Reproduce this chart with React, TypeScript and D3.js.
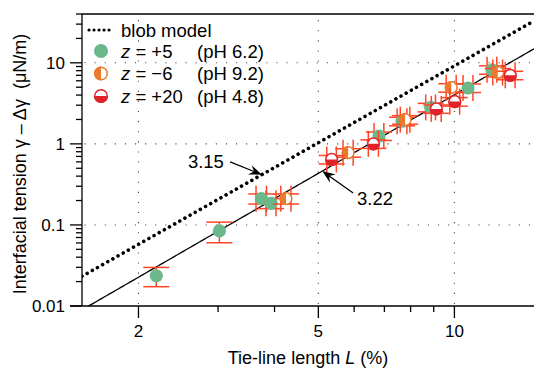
import React from "react";
import * as d3 from "d3";

// ---- Data ----
const greenL = [2.19, 3.02, 3.74, 3.93, 6.81, 7.66, 8.86, 10.72, 12.11];
const greenV = [0.0236, 0.0843, 0.211, 0.185, 1.25, 1.9, 2.82, 4.89, 8.2];
const greenXErr = [0, 0, 0.1, 0.1, 0.17, 0.19, 0.22, 0.27, 0.3];
const greenYErr = [0.0063, 0.024, 0.03, 0.026, 0.15, 0.23, 0.34, 0.59, 0.98];

const orangeL = [4.24, 5.82, 7.78, 9.84, 12.47];
const orangeV = [0.211, 0.778, 1.99, 4.93, 7.6];
const orangeXErr = [0.11, 0.15, 0.19, 0.25, 0.31];
const orangeYErr = [0.03, 0.093, 0.24, 0.59, 0.91];

const redL = [5.35, 6.62, 9.12, 10.02, 13.29];
const redV = [0.642, 1.0, 2.7, 3.32, 7.02];
const redXErr = [0.13, 0.17, 0.23, 0.25, 0.33];
const redYErr = [0.077, 0.12, 0.32, 0.4, 0.84];

const xTickMajor = [2, 5, 10];
const xTickMinor = [3, 4, 6, 7, 8, 9];
const yTickMajor = [0.01, 0.1, 1, 10];
const yTickLabels = ["0.01", "0.1", "1", "10"];

const fitCoef = 0.00243;
const fitExp = 3.22;
const blobCoef = 0.00649;
const blobExp = 3.15;

const legendLabels = ["+5", "\u22126", "+20"];
const legendPH = ["(pH 6.2)", "(pH 9.2)", "(pH 4.8)"];

// ---- Layout ----
const W = 534;
const H = 368;
const left = 82;
const right = 534;
const top = 14;
const bottom = 306;

const GREEN = "#6bb88a";
const ORANGE = "#ec7a2c";
const RED = "#e0232a";
const ERR = "#ff4526";
const FONT = "'Liberation Sans', Arial, Helvetica, sans-serif";

const x = d3.scaleLog().domain([1.5, 15]).range([left, right]);
const y = d3.scaleLog().domain([0.01, 40]).range([bottom, top]);

function yMinorTicks(): number[] {
  const out: number[] = [];
  for (const dec of [0.01, 0.1, 1, 10]) {
    for (let k = 2; k <= 9; k++) {
      const v = dec * k;
      if (v <= 40) out.push(v);
    }
  }
  return out;
}

type Kind = "green" | "orange" | "red";

function Marker({ cx, cy, kind, r = 6.6 }: { cx: number; cy: number; kind: Kind; r?: number }) {
  if (kind === "green") {
    return <circle cx={cx} cy={cy} r={r} fill={GREEN} />;
  }
  if (kind === "orange") {
    const arc = d3.arc()({ innerRadius: 0, outerRadius: r, startAngle: Math.PI, endAngle: 2 * Math.PI }) as string;
    return (
      <g transform={`translate(${cx},${cy})`}>
        <circle r={r - 0.75} fill="white" stroke={ORANGE} strokeWidth={1.5} />
        <path d={arc} fill={ORANGE} />
      </g>
    );
  }
  const arc = d3.arc()({ innerRadius: 0, outerRadius: r, startAngle: Math.PI / 2, endAngle: (3 * Math.PI) / 2 }) as string;
  return (
    <g transform={`translate(${cx},${cy})`}>
      <circle r={r - 0.75} fill="white" stroke={RED} strokeWidth={1.5} />
      <path d={arc} fill={RED} />
    </g>
  );
}

function ErrorBars({ L, V, xe, ye }: { L: number[]; V: number[]; xe: number[]; ye: number[] }) {
  const cap = 13;
  return (
    <g stroke={ERR} strokeWidth={1.5} fill="none">
      {L.map((l, i) => {
        const cx = x(l);
        const cy = y(V[i]);
        const y1 = y(V[i] + ye[i]);
        const y2 = y(V[i] - ye[i]);
        const parts = [
          <line key="v" x1={cx} x2={cx} y1={y1} y2={y2} />,
          <line key="c1" x1={cx - cap} x2={cx + cap} y1={y1} y2={y1} />,
          <line key="c2" x1={cx - cap} x2={cx + cap} y1={y2} y2={y2} />,
        ];
        if (xe[i] > 0) {
          const x1 = x(l - xe[i]);
          const x2 = x(l + xe[i]);
          parts.push(<line key="h" x1={x1} x2={x2} y1={cy} y2={cy} />);
          parts.push(<line key="c3" x1={x1} x2={x1} y1={cy - cap} y2={cy + cap} />);
          parts.push(<line key="c4" x1={x2} x2={x2} y1={cy - cap} y2={cy + cap} />);
        }
        return <g key={i}>{parts}</g>;
      })}
    </g>
  );
}

function Arrow({ x1, y1, x2, y2 }: { x1: number; y1: number; x2: number; y2: number }) {
  const ang = Math.atan2(y2 - y1, x2 - x1);
  const len = 13;
  const hw = 5;
  const ux = Math.cos(ang);
  const uy = Math.sin(ang);
  const bx = x2 - ux * len;
  const by = y2 - uy * len;
  const nx = x2 - ux * len * 0.65;
  const ny = y2 - uy * len * 0.65;
  const p = `M${x2},${y2} L${bx - uy * hw},${by + ux * hw} L${nx},${ny} L${bx + uy * hw},${by - ux * hw} Z`;
  return (
    <g>
      <line x1={x1} y1={y1} x2={nx} y2={ny} stroke="black" strokeWidth={1.3} />
      <path d={p} fill="black" />
    </g>
  );
}

export default function App() {
  const lineGen = (c: number, e: number) => {
    const pts = d3.range(0, 201).map((i) => 1.5 * Math.pow(10, i / 200));
    return d3
      .line<number>()
      .x((l) => x(l))
      .y((l) => y(c * Math.pow(l, e)))(pts) as string;
  };

  const blobTip = 3.75;
  const fitTip = 5.1;

  return (
    <svg width={W} height={H} style={{ position: "absolute", left: 0, top: 0 }} fontFamily={FONT}>
      <defs>
        <clipPath id="plot">
          <rect x={left} y={top} width={right - left} height={bottom - top} />
        </clipPath>
      </defs>
      <rect x={0} y={0} width={W} height={H} fill="white" />

      {/* grid */}
      <g stroke="#444" strokeWidth={1.1} strokeDasharray="1.1 9">
        {xTickMajor.map((t) => (
          <line key={"gx" + t} x1={x(t)} x2={x(t)} y1={bottom - 2} y2={top} />
        ))}
        {[0.1, 1, 10].map((t) => (
          <line key={"gy" + t} x1={right - 4} x2={left} y1={y(t)} y2={y(t)} />
        ))}
      </g>

      {/* lines */}
      <g clipPath="url(#plot)">
        <path d={lineGen(fitCoef, fitExp)} fill="none" stroke="black" strokeWidth={1.3} />
        <path
          d={lineGen(blobCoef, blobExp)}
          fill="none"
          stroke="black"
          strokeWidth={3.6}
          strokeLinecap="round"
          strokeDasharray="0.01 5.9"
        />
      </g>

      {/* data */}
      <ErrorBars L={greenL} V={greenV} xe={greenXErr} ye={greenYErr} />
      {greenL.map((l, i) => (
        <Marker key={"g" + i} cx={x(l)} cy={y(greenV[i])} kind="green" />
      ))}
      <ErrorBars L={orangeL} V={orangeV} xe={orangeXErr} ye={orangeYErr} />
      {orangeL.map((l, i) => (
        <Marker key={"o" + i} cx={x(l)} cy={y(orangeV[i])} kind="orange" />
      ))}
      <ErrorBars L={redL} V={redV} xe={redXErr} ye={redYErr} />
      {redL.map((l, i) => (
        <Marker key={"r" + i} cx={x(l)} cy={y(redV[i])} kind="red" />
      ))}

      {/* axes */}
      <g stroke="black" strokeWidth={1.3}>
        <line x1={left} x2={left} y1={top} y2={bottom} />
        <line x1={left - 12} x2={right} y1={bottom} y2={bottom} />
        <line x1={left} x2={right} y1={top} y2={top} />
        {xTickMajor.map((t) => (
          <line key={"xt" + t} x1={x(t)} x2={x(t)} y1={bottom} y2={bottom + 12} />
        ))}
        {xTickMinor.map((t) => (
          <line key={"xm" + t} x1={x(t)} x2={x(t)} y1={bottom} y2={bottom + 6} />
        ))}
        {yTickMajor.map((t) => (
          <line key={"yt" + t} x1={left - 12} x2={left} y1={y(t)} y2={y(t)} />
        ))}
        {yMinorTicks().map((t) => (
          <line key={"ym" + t} x1={left - 6} x2={left} y1={y(t)} y2={y(t)} />
        ))}
      </g>
      <g fontSize={17} fill="black">
        {xTickMajor.map((t) => (
          <text key={"xl" + t} x={x(t)} y={337} textAnchor="middle">
            {t}
          </text>
        ))}
        {yTickMajor.map((t, i) => (
          <text key={"yl" + t} x={65} y={y(t) + 6} textAnchor="end">
            {yTickLabels[i]}
          </text>
        ))}
      </g>
      <text x={(left + right) / 2} y={364} textAnchor="middle" fontSize={18}>
        Tie-line length <tspan fontStyle="italic">L</tspan> (%)
      </text>
      <text transform={`translate(26,${(top + bottom) / 2 + 4}) rotate(-90)`} textAnchor="middle" fontSize={18}>
        Interfacial tension γ – Δγ {"\u00a0"}(μN/m)
      </text>

      {/* annotations */}
      <text x={x(2.82)} y={y(0.598) + 6.5} textAnchor="middle" fontSize={18.5}>
        3.15
      </text>
      <Arrow x1={x(3.19)} y1={y(0.598)} x2={x(blobTip)} y2={y(blobCoef * Math.pow(blobTip, blobExp))} />
      <text x={x(6.09)} y={y(0.209) + 6.5} textAnchor="start" fontSize={18.5}>
        3.22
      </text>
      <Arrow x1={x(5.97)} y1={y(0.248)} x2={x(fitTip)} y2={y(fitCoef * Math.pow(fitTip, fitExp))} />

      {/* legend */}
      <g fontSize={18.5}>
        <line x1={89} x2={113} y1={30} y2={30} stroke="black" strokeWidth={3.2} strokeLinecap="round" strokeDasharray="0.01 5" />
        <text x={121} y={36.5}>blob model</text>
        {(["green", "orange", "red"] as Kind[]).map((k, i) => {
          const cy = 51 + i * 22.5;
          return (
            <g key={k}>
              <Marker cx={101} cy={cy} kind={k} r={7} />
              <text x={121} y={cy + 6.5}>
                <tspan fontStyle="italic">z</tspan> = {legendLabels[i]}
              </text>
              <text x={197} y={cy + 6.5}>
                {legendPH[i]}
              </text>
            </g>
          );
        })}
      </g>
    </svg>
  );
}
